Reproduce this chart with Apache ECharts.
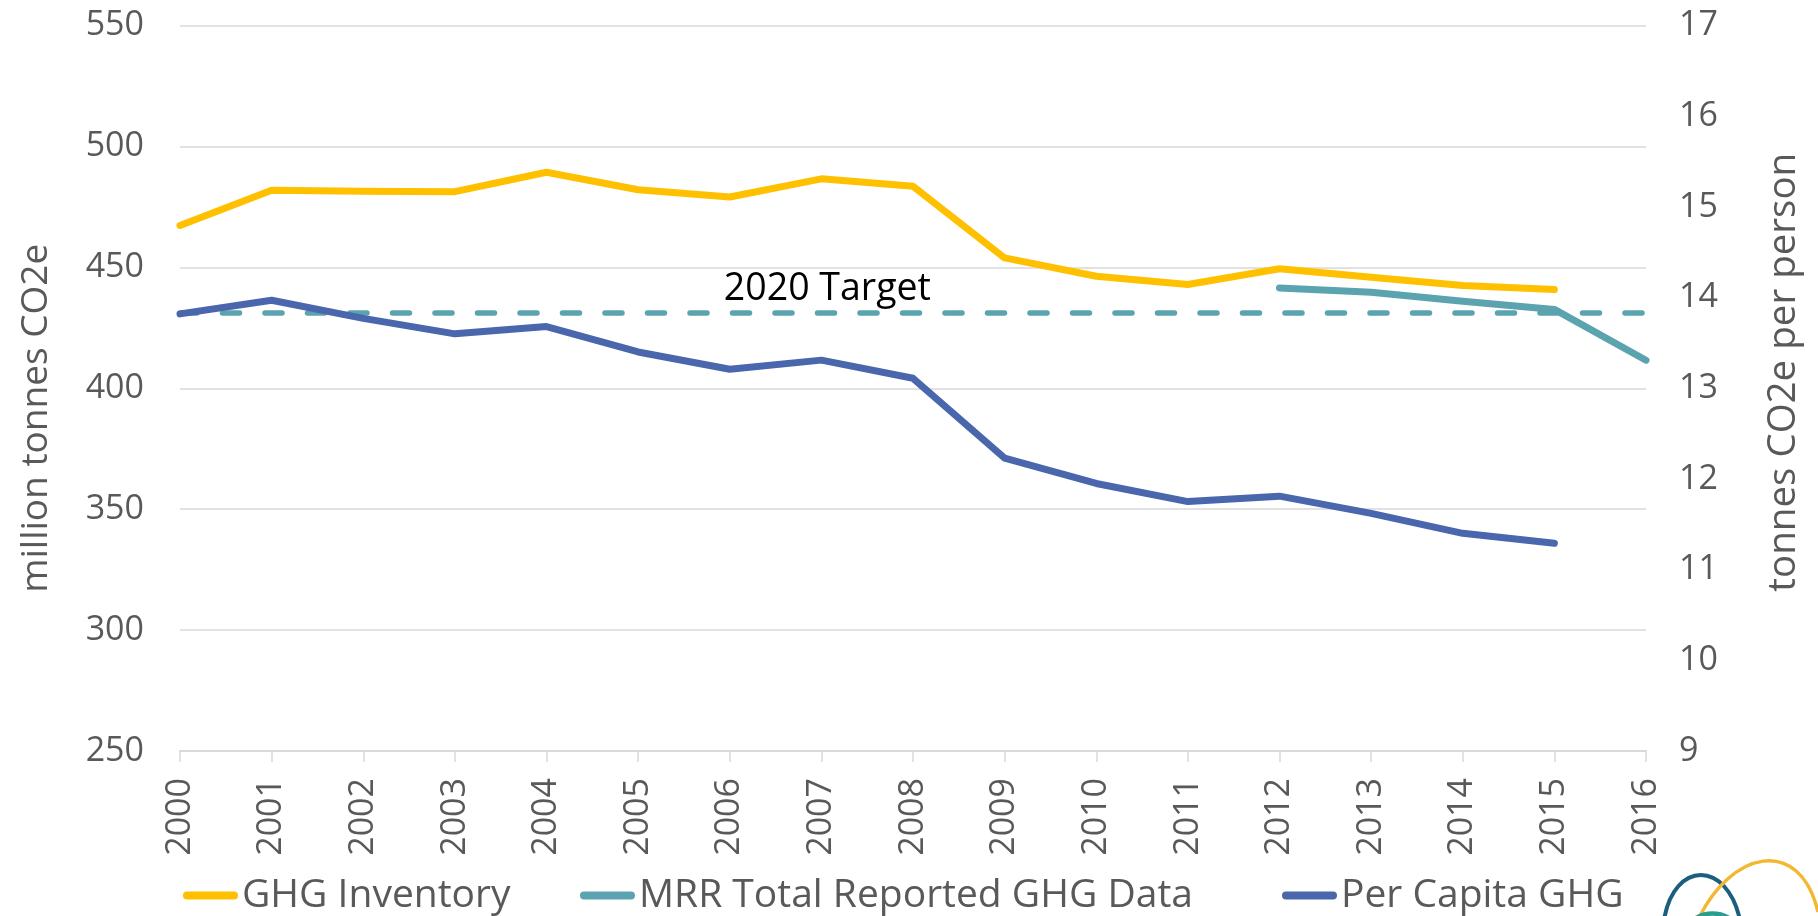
<!DOCTYPE html>
<html>
<head>
<meta charset="utf-8">
<script src="https://cdn.jsdelivr.net/npm/echarts@6/dist/echarts.min.js"></script>
<style>
html,body{margin:0;padding:0;background:#fff;}
#chart{width:1818px;height:916px;}
</style>
</head>
<body>
<div id="chart"></div>
<script>
const years = ['2000','2001','2002','2003','2004','2005','2006','2007','2008','2009','2010','2011','2012','2013','2014','2015','2016'];
const ghgInventory = [467.3, 481.9, 481.5, 481.3, 489.3, 482.1, 479.1, 486.6, 483.5, 453.9, 446.3, 442.9, 449.4, 445.9, 442.5, 440.8, null];
const mrrReported = [null, null, null, null, null, null, null, null, null, null, null, null, 441.5, 439.7, 436.0, 432.6, 411.6];
const perCapita = [13.82, 13.97, 13.77, 13.60, 13.68, 13.40, 13.21, 13.31, 13.11, 12.23, 11.95, 11.75, 11.81, 11.62, 11.40, 11.29, null];
const target2020 = 431.2;
const targetLabel = '2020 Target';
const targetLabelYear = '2007';
const leftTicks = { min: 250, max: 550, interval: 50 };
const rightTicks = { min: 9, max: 17, interval: 1 };
const seriesNames = ['GHG Inventory', 'MRR Total Reported GHG Data', 'Per Capita GHG'];

const COLORS = { ghg: '#FFC000', mrr: '#5BA3AF', cap: '#4A66AC' };
const FONT = "'Open Sans', 'Noto Sans', sans-serif";
const GRAY = '#595959';
const GRID = '#D9D9D9';
const legendIcon = 'path://M4,0 H51 A4,4 0 0 1 51,8 H4 A4,4 0 0 1 4,0 Z';

function legendAt(name, left) {
  return {
    data: [name], left: left, top: 876, icon: legendIcon, itemWidth: 55, itemHeight: 8,
    itemGap: 0, selectedMode: false, padding: 0,
    textStyle: { fontFamily: FONT, fontSize: 39, color: GRAY, padding: [0, 0, 0, -1] }
  };
}

const chart = echarts.init(document.getElementById('chart'), null, { renderer: 'canvas' });
chart.setOption({
  animation: false,
  backgroundColor: '#fff',
  grid: { left: 180, right: 172, top: 25.5, bottom: 165, containLabel: false },
  legend: [legendAt(seriesNames[0], 183), legendAt(seriesNames[1], 580), legendAt(seriesNames[2], 1282)],
  xAxis: {
    type: 'category', data: years, boundaryGap: false,
    axisLine: { show: true, lineStyle: { color: GRID, width: 2 } },
    axisTick: { show: true, alignWithLabel: true, length: 11, lineStyle: { color: GRID, width: 1.5 } },
    axisLabel: { rotate: 90, margin: 27, fontFamily: FONT, fontSize: 34, color: GRAY }
  },
  yAxis: [
    {
      type: 'value', position: 'left', min: leftTicks.min, max: leftTicks.max, interval: leftTicks.interval,
      name: 'million tonnes CO2e', nameLocation: 'middle', nameRotate: 90, nameGap: 125,
      nameTextStyle: { fontFamily: FONT, fontSize: 37, color: GRAY, padding: [0, 60, 0, 0] },
      axisLine: { show: false }, axisTick: { show: false },
      axisLabel: { margin: 36, fontFamily: FONT, fontSize: 34, color: GRAY },
      splitLine: { show: true, lineStyle: { color: GRID, width: 1.5 } }
    },
    {
      type: 'value', position: 'right', min: rightTicks.min, max: rightTicks.max, interval: rightTicks.interval,
      name: 'tonnes CO2e per person', nameLocation: 'middle', nameRotate: 90, nameGap: 119,
      nameTextStyle: { fontFamily: FONT, fontSize: 38.5, color: GRAY, padding: [0, 0, 0, 32] },
      axisLine: { show: false }, axisTick: { show: false },
      axisLabel: { margin: 33, fontFamily: FONT, fontSize: 34, color: GRAY },
      splitLine: { show: false }
    }
  ],
  series: [
    {
      name: seriesNames[0], type: 'line', yAxisIndex: 0, data: ghgInventory,
      showSymbol: false, symbol: 'none', z: 3, connectNulls: false,
      itemStyle: { color: COLORS.ghg },
      lineStyle: { color: COLORS.ghg, width: 7, cap: 'round', join: 'round' },
      markLine: {
        silent: true, symbol: ['none', 'none'], z: 2,
        label: { show: false },
        lineStyle: { color: COLORS.mrr, width: 5.5, type: [17, 25.5], cap: 'round' },
        data: [{ yAxis: target2020 }]
      },
      markPoint: {
        silent: true, symbol: 'circle', symbolSize: 0,
        label: { show: true, position: 'top', distance: 9, offset: [6, 5], formatter: '{b}', fontFamily: FONT, fontSize: 37.5, color: '#000' },
        data: [{ name: targetLabel, coord: [targetLabelYear, target2020] }]
      }
    },
    {
      name: seriesNames[1], type: 'line', yAxisIndex: 0, data: mrrReported,
      showSymbol: false, symbol: 'none', z: 4,
      itemStyle: { color: COLORS.mrr },
      lineStyle: { color: COLORS.mrr, width: 7, cap: 'round', join: 'round' }
    },
    {
      name: seriesNames[2], type: 'line', yAxisIndex: 1, data: perCapita,
      showSymbol: false, symbol: 'none', z: 5,
      itemStyle: { color: COLORS.cap },
      lineStyle: { color: COLORS.cap, width: 7, cap: 'round', join: 'round' }
    }
  ],
  graphic: [
    { type: 'bezierCurve', silent: true, z: 10,
      shape: { x1: 1664, y1: 920, cpx1: 1674, cpy1: 860, cpx2: 1727, cpy2: 860, x2: 1740, y2: 920 },
      style: { stroke: '#1B5E7E', lineWidth: 4, fill: null } },
    { type: 'bezierCurve', silent: true, z: 10,
      shape: { x1: 1697, y1: 922, cpx1: 1730, cpy1: 850, cpx2: 1800, cpy2: 835, x2: 1818, y2: 912 },
      style: { stroke: '#F4B731', lineWidth: 3.5, fill: null } },
    { type: 'bezierCurve', silent: true, z: 10,
      shape: { x1: 1684, y1: 930, cpx1: 1697, cpy1: 908, cpx2: 1728, cpy2: 908, x2: 1741, y2: 930 },
      style: { stroke: '#2A9D8F', lineWidth: 4.5, fill: null } }
  ]
});
</script>
</body>
</html>
